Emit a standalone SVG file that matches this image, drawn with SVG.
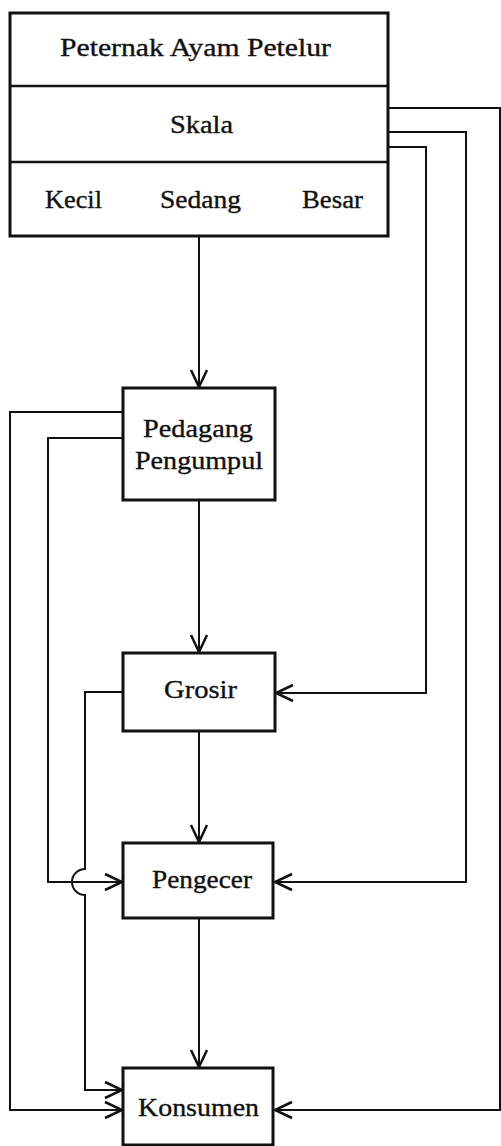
<svg xmlns="http://www.w3.org/2000/svg" width="501" height="1146" viewBox="0 0 501 1146">
<style>
.box{fill:#fff;stroke:#111;stroke-width:3}
.div{stroke:#111;stroke-width:2.5;fill:none}
.lbl{font-family:"Liberation Serif","Times New Roman",serif;font-size:25px;fill:#111;stroke:#111;stroke-width:0.35;text-anchor:start}
.con{fill:none;stroke:#111;stroke-width:2;marker-end:url(#arr)}
</style>
<defs>
<marker id="arr" markerUnits="userSpaceOnUse" markerWidth="24" markerHeight="24" viewBox="-20 -12 24 24" refX="0" refY="0" orient="auto">
<path d="M-17,-8 L0,0 L-17,8" fill="none" stroke="#111" stroke-width="2.5"/>
</marker>
</defs>
<rect width="501" height="1146" fill="#fff"/>
<g id="connectors">
<path class="con" d="M199,237 V387"/>
<path class="con" d="M199,500 V652"/>
<path class="con" d="M199,731 V842"/>
<path class="con" d="M199,918 V1067"/>
<path class="con" d="M388,108 H500 V1110 H275"/>
<path class="con" d="M388,132 H466 V882 H275"/>
<path class="con" d="M388,147 H426 V693 H276"/>
<path class="con" d="M122,412 H10 V1110 H122"/>
<path class="con" d="M122,438 H48 V882 H122"/>
<path class="con" d="M122,692 H85 V869 A13,13 0 0 0 85,895 V1090 H122"/>
</g>
<g id="peternak">
<rect class="box" x="10" y="13" width="378" height="223"/>
<line class="div" x1="10" y1="86" x2="388" y2="86"/>
<line class="div" x1="10" y1="162" x2="388" y2="162"/>
<text class="lbl" x="60" y="56" textLength="271" lengthAdjust="spacingAndGlyphs">Peternak Ayam Petelur</text>
<text class="lbl" x="170" y="133" textLength="63" lengthAdjust="spacingAndGlyphs">Skala</text>
<text class="lbl" x="45" y="208" textLength="57" lengthAdjust="spacingAndGlyphs">Kecil</text>
<text class="lbl" x="160" y="208" textLength="81" lengthAdjust="spacingAndGlyphs">Sedang</text>
<text class="lbl" x="302" y="208" textLength="61" lengthAdjust="spacingAndGlyphs">Besar</text>
</g>
<g id="pedagang">
<rect class="box" x="123" y="388" width="152" height="112"/>
<text class="lbl" x="143" y="437" textLength="110" lengthAdjust="spacingAndGlyphs">Pedagang</text>
<text class="lbl" x="135" y="469" textLength="128" lengthAdjust="spacingAndGlyphs">Pengumpul</text>
</g>
<g id="grosir">
<rect class="box" x="123" y="653" width="152" height="78"/>
<text class="lbl" x="164" y="698" textLength="73" lengthAdjust="spacingAndGlyphs">Grosir</text>
</g>
<g id="pengecer">
<rect class="box" x="123" y="843" width="150" height="75"/>
<text class="lbl" x="152" y="888" textLength="100" lengthAdjust="spacingAndGlyphs">Pengecer</text>
</g>
<g id="konsumen">
<rect class="box" x="123" y="1068" width="150" height="77"/>
<text class="lbl" x="138" y="1116" textLength="121" lengthAdjust="spacingAndGlyphs">Konsumen</text>
</g>
</svg>
